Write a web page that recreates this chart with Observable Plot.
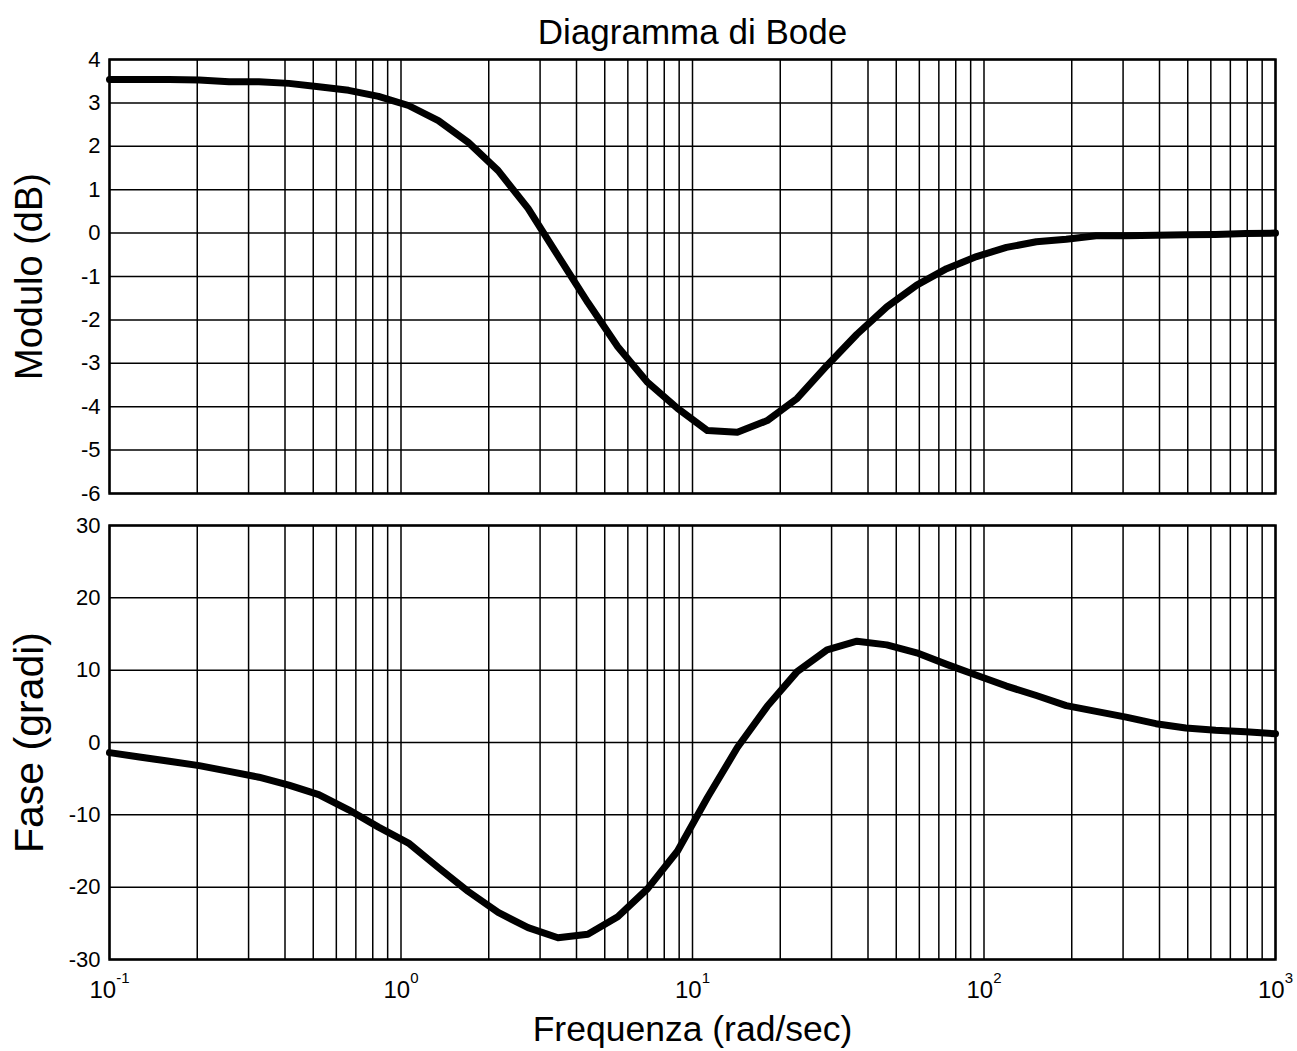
<!DOCTYPE html>
<html>
<head>
<meta charset="utf-8">
<script src="https://cdn.jsdelivr.net/npm/d3@7"></script>
<script src="https://cdn.jsdelivr.net/npm/@observablehq/plot@0.6"></script>
<style>
  body { margin: 0; background: #fff; font-family: "Liberation Sans", Arial, sans-serif; }
  #chart { position: relative; width: 1297px; height: 1051px; overflow: hidden; }
  #chart svg { display: block; }
</style>
</head>
<body>
<div id="chart"></div>
<script>
// Frequencies (rad/sec) of the plotted points
const freq = [0.1, 0.12663, 0.16035, 0.20305, 0.25713, 0.3256, 0.41232, 0.52213, 0.66117, 0.83724,
  1.0608, 1.3434, 1.7011, 2.1544, 2.7283, 3.4551, 4.3755, 5.5415, 7.017, 8.8862,
  11.253, 14.251, 18.047, 22.854, 28.943, 36.652, 46.416, 58.78, 74.438, 94.267,
  119.38, 151.18, 191.45, 242.45, 307.03, 388.82, 492.39, 623.55, 789.65, 1000];
// Magnitude (dB)
const magDb = [3.54, 3.54, 3.54, 3.53, 3.49, 3.49, 3.45, 3.37, 3.29, 3.15,
  2.94, 2.59, 2.09, 1.44, 0.57, -0.52, -1.60, -2.62, -3.44, -4.04,
  -4.55, -4.59, -4.32, -3.81, -3.05, -2.33, -1.70, -1.20, -0.82, -0.54,
  -0.33, -0.20, -0.14, -0.06, -0.06, -0.05, -0.04, -0.03, -0.01, 0.0];
// Phase (degrees)
const phaseDeg = [-1.4, -2.0, -2.6, -3.2, -4.0, -4.8, -5.9, -7.2, -9.3, -11.7,
  -13.9, -17.3, -20.6, -23.5, -25.6, -27.0, -26.5, -24.1, -20.2, -15.0,
  -7.6, -0.7, 5.0, 9.8, 12.8, 14.0, 13.5, 12.4, 10.8, 9.3,
  7.8, 6.5, 5.1, 4.3, 3.5, 2.6, 2.0, 1.7, 1.5, 1.2];

const magTicks = [4, 3, 2, 1, 0, -1, -2, -3, -4, -5, -6];
const phaseTicks = [30, 20, 10, 0, -10, -20, -30];
const decadeTicks = [0.1, 1, 10, 100, 1000];
const decadeExp = ["-1", "0", "1", "2", "3"];

const titleText = "Diagramma di Bode";
const magLabel = "Modulo (dB)";
const phaseLabel = "Fase (gradi)";
const xLabel = "Frequenza (rad/sec)";

const xDomain = [0.1, 1000];
const minorGrid = d3.scaleLog().domain(xDomain).ticks();
const magData = freq.map((f, i) => ({f, v: magDb[i]}));
const phaseData = freq.map((f, i) => ({f, v: phaseDeg[i]}));

const W = 1297, ML = 109, MR = 22;
const font = "'Liberation Sans', Arial, Helvetica, sans-serif";
const gridStyle = {stroke: "black", strokeOpacity: 1, strokeWidth: 1.5};
const plainNum = d => String(d);

const magPlot = Plot.plot({
  width: W, height: 508,
  marginTop: 59, marginBottom: 15, marginLeft: ML, marginRight: MR,
  style: {fontFamily: font, fontSize: "22px", color: "black", background: "white", overflow: "visible"},
  x: {type: "log", domain: xDomain, axis: null},
  y: {domain: [-6, 4], axis: null},
  marks: [
    Plot.gridX(minorGrid, gridStyle),
    Plot.gridY(magTicks, gridStyle),
    Plot.frame({stroke: "black", strokeWidth: 2.5}),
    Plot.axisY(magTicks, {tickSize: 0, tickPadding: 9, fontSize: 22, label: null, tickFormat: plainNum}),
    Plot.line(magData, {x: "f", y: "v", stroke: "black", strokeWidth: 7, strokeLinejoin: "round"}),
    Plot.text([titleText], {frameAnchor: "top", lineAnchor: "middle", dy: -27, fontSize: 35}),
    Plot.text([magLabel], {frameAnchor: "left", textAnchor: "middle", lineAnchor: "middle", rotate: -90, dx: -80, fontSize: 38})
  ]
});

const phasePlot = Plot.plot({
  width: W, height: 543,
  marginTop: 17, marginBottom: 92, marginLeft: ML, marginRight: MR,
  style: {fontFamily: font, fontSize: "22px", color: "black", background: "white", overflow: "visible"},
  x: {type: "log", domain: xDomain, axis: null},
  y: {domain: [-30, 30], axis: null},
  marks: [
    Plot.gridX(minorGrid, gridStyle),
    Plot.gridY(phaseTicks, gridStyle),
    Plot.frame({stroke: "black", strokeWidth: 2.5}),
    Plot.axisY(phaseTicks, {tickSize: 0, tickPadding: 9, fontSize: 22, label: null, tickFormat: plainNum}),
    Plot.axisX(decadeTicks, {tickSize: 0, tickPadding: 21, fontSize: 24, label: null, tickFormat: () => "10"}),
    Plot.line(phaseData, {x: "f", y: "v", stroke: "black", strokeWidth: 7, strokeLinejoin: "round"}),
    Plot.text([phaseLabel], {frameAnchor: "left", textAnchor: "middle", lineAnchor: "middle", rotate: -90, dx: -80, fontSize: 41}),
    Plot.text([xLabel], {frameAnchor: "bottom", lineAnchor: "middle", dy: 70, fontSize: 35.5})
  ]
});

// tick label sizes (inline style) and superscript exponents on the decade tick labels
[magPlot, phasePlot].forEach(p => {
  d3.select(p).selectAll("g[aria-label='y-axis tick label'] text").style("font-size", "22px");
});
d3.select(phasePlot).selectAll("g[aria-label='x-axis tick label'] text")
  .style("font-size", "24px")
  .each(function(d, i) {
    d3.select(this).append("tspan")
      .attr("dy", "-15")
      .style("font-size", "15px")
      .text(decadeExp[i]);
  });

const chart = document.getElementById("chart");
chart.appendChild(magPlot);
chart.appendChild(phasePlot);
</script>
</body>
</html>
